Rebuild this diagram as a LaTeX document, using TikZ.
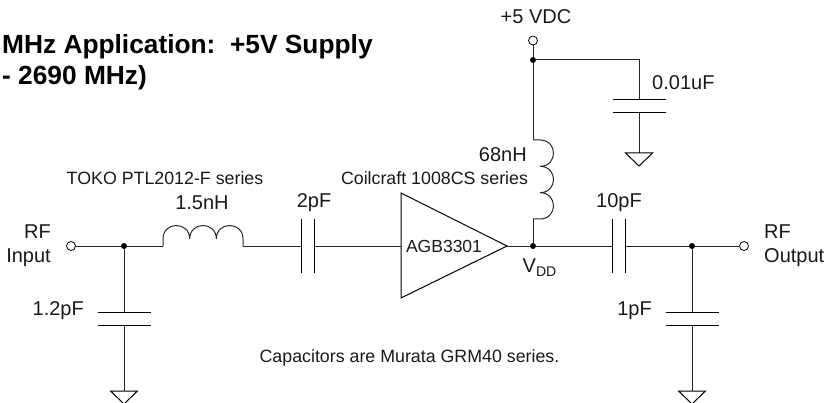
\documentclass[tikz,border=0pt]{standalone}
\usepackage{fontspec}
\setmainfont{Liberation Sans}
\tikzset{
  x=1pt,y=-1pt,
  wire/.style={line width=1pt,draw=black!85},
  plate/.style={line width=1pt,draw=black},
  dotn/.style={circle,fill=black,inner sep=0pt,minimum size=6pt},
  term/.style={circle,draw=black,fill=white,line width=.8pt,inner sep=0pt,minimum size=9pt},
  lab/.style={inner sep=0pt,font=\fontsize{20}{24}\selectfont,text=black!90},
  small/.style={inner sep=0pt,font=\fontsize{17.8}{20}\selectfont,text=black!90},
  title/.style={inner sep=0pt,font=\bfseries\fontsize{26.3}{30}\selectfont,anchor=west},
}
\begin{document}
\begin{tikzpicture}
\useasboundingbox (0,0) rectangle (826,403);
\clip (0,0) rectangle (826,403);
% points
\node[term] (in) at (71,246) {};
\node[dotn] (j1) at (124,246) {};
\coordinate (l1a) at (163,246);
\coordinate (l1b) at (243,246);
\coordinate (c2a) at (301,246);
\coordinate (c2b) at (314,246);
\coordinate (ampin) at (401,246);
\coordinate (ampout) at (507,246);
\node[dotn] (j2) at (533,246) {};
\coordinate (c3a) at (612,246);
\coordinate (c3b) at (625.5,246);
\node[dotn] (j3) at (692,246) {};
\node[term] (out) at (744,246) {};
\node[term] (vdc) at (533,40.5) {};
\node[dotn] (j4) at (533,60) {};
\coordinate (l2a) at (533,140);
\coordinate (l2b) at (533,219);
\coordinate (corner) at (639,60);
\coordinate (c4a) at (639,100);
\coordinate (c4b) at (639,113);
\coordinate (g4) at (639,153);
\coordinate (c1a) at (124,312);
\coordinate (c1b) at (124,325);
\coordinate (g1) at (124,391);
\coordinate (c5a) at (692,312);
\coordinate (c5b) at (692,325);
\coordinate (g5) at (692,391);
% wires
\draw[wire] (in) -- (j1) -- (l1a);
\draw[wire] (l1b) -- (c2a);
\draw[wire] (c2b) -- (ampin);
\draw[wire] (ampout) -- (j2) -- (c3a);
\draw[wire] (c3b) -- (j3) -- (out);
\draw[wire] (vdc) -- (j4) -- (l2a);
\draw[wire] (l2b) -- (j2);
\draw[wire] (j4) -- (corner) -- (c4a);
\draw[wire] (c4b) -- (g4);
\draw[wire] (j1) -- (c1a);
\draw[wire] (c1b) -- (g1);
\draw[wire] (j3) -- (c5a);
\draw[wire] (c5b) -- (g5);
% inductors
\draw[wire] (l1a) -- ++(0,-7)
  .. controls +(0,-18) and +(0,-18) .. ++(26.67,0)
  .. controls +(0,-18) and +(0,-18) .. ++(26.67,0)
  .. controls +(0,-18) and +(0,-18) .. ++(26.67,0) -- (l1b);
\draw[wire] (l2a) -- ++(7,0)
  .. controls +(18,0) and +(18,0) .. ++(0,26.33)
  .. controls +(18,0) and +(18,0) .. ++(0,26.33)
  .. controls +(18,0) and +(18,0) .. ++(0,26.33) -- (l2b);
% capacitor plates
\foreach \c in {c1a,c1b,c5a,c5b,c4a,c4b}
  \draw[plate] (\c) ++(-26.5,0) -- ++(53,0);
\foreach \c in {c2a,c2b,c3a,c3b}
  \draw[plate] (\c) ++(0,-26.5) -- ++(0,53);
% grounds
\foreach \g in {g1,g5,g4}
  \draw[plate] (\g) ++(-13.5,0) -- ++(27,0) -- ++(-13.5,13) -- cycle;
% amplifier
\draw[plate] (401,193) -- (507,246) -- (401,298) -- cycle;
% labels
\node[lab,anchor=east] at (51,232) {RF};
\node[lab,anchor=east] at (51,258) {Input};
\node[lab] at (202,203) {1.5nH};
\node[lab] at (314,203) {2pF};
\node[lab,anchor=east] at (84,311) {1.2pF};
\node[small] at (165,178) {TOKO PTL2012-F series};
\node[small] at (434.5,178) {Coilcraft 1008CS series};
\node[lab,font=\fontsize{17.5}{20}\selectfont] at (444,246) {AGB3301};
\node[lab,anchor=east] at (527,155) {68nH};
\node[lab] at (536,17) {+5 VDC};
\node[lab,anchor=west] at (652,83) {0.01uF};
\node[lab] at (619,203) {10pF};
\node[lab,anchor=west] at (764,232) {RF};
\node[lab,anchor=west] at (764,258) {Output};
\node[lab,anchor=east] at (652,311) {1pF};
\node[lab] at (539.5,268) {V\raisebox{-4pt}{\fontsize{14}{16}\selectfont DD}};
\node[small] at (409.5,358) {Capacitors are Murata GRM40 series.};
\node[title] at (2,47) {MHz Application:\ \ +5V Supply};
\node[title] at (2,78) {- 2690 MHz)};
\end{tikzpicture}
\end{document}
